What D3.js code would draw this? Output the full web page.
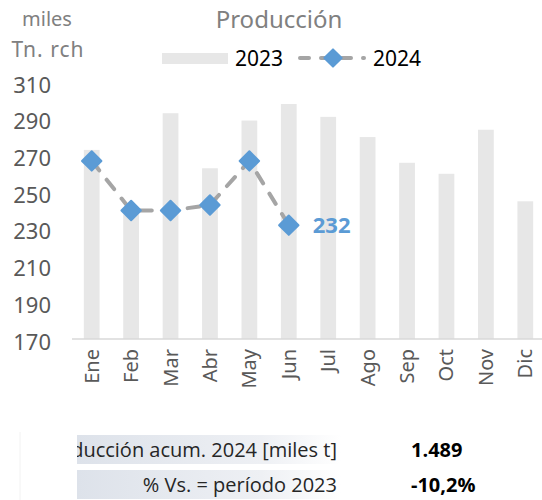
<!DOCTYPE html>
<html>
    <head>
        <meta http-equiv="Content-Type" content="text/html; charset=UTF-8">
        <script src="https://d3js.org/d3.v7.min.js"></script>
        <style>
            html, body {
                margin: 0;
                padding: 0;
                background-color: white;
            }
            svg {
                display: block;
                font-family: 'Noto Sans', sans-serif;
            }
        </style>
        <title>Producción</title>
    </head>
    <body>
        <script>
            // data
            var months = ["Ene", "Feb", "Mar", "Abr", "May", "Jun", "Jul", "Ago", "Sep", "Oct", "Nov", "Dic"];
            var prod2023 = [273, 238, 293, 263, 289, 298, 291, 280, 266, 260, 284, 245];
            var prod2024 = [267, 240, 240, 243, 267, 232];
            var yTicks = [170, 190, 210, 230, 250, 270, 290, 310];
            var tableLabels = ["Producción acum. 2024 [miles t]", "% Vs. = período 2023"];
            var tableValues = ["1.489", "-10,2%"];

            var ww = 542, hh = 500;
            var svg = d3.select("body").append("svg").attr("width", ww).attr("height", hh);

            var x = d3.scaleBand().domain(months).range([72, 545]).paddingInner(0.6).paddingOuter(0.3);
            var y = d3.scaleLinear().domain([170, 310]).range([339, 82]);

            // bars 2023
            svg.append("g").selectAll("rect").data(prod2023).enter().append("rect")
                .attr("x", function(d, i) { return x(months[i]); })
                .attr("y", function(d) { return y(d); })
                .attr("width", x.bandwidth())
                .attr("height", function(d) { return y(170) - y(d); })
                .style("fill", "#e7e7e7");

            // baseline
            svg.append("line").attr("x1", 72).attr("x2", ww).attr("y1", y(170)).attr("y2", y(170))
                .style("stroke", "#d9d9d9").style("stroke-width", 1.5);

            // y axis labels
            var yAxis = d3.axisLeft(y).tickValues(yTicks).tickSize(0).tickPadding(0);
            var gy = svg.append("g").attr("transform", "translate(51,3)").call(yAxis);
            gy.select(".domain").remove();
            gy.selectAll("text").style("font-size", "22px").style("fill", "#595959")
                .style("font-family", "'Noto Sans', sans-serif");

            // x axis labels, rotated
            var xAxis = d3.axisBottom(x).tickSize(0).tickPadding(0);
            var gx = svg.append("g").attr("transform", "translate(0,349)").call(xAxis);
            gx.select(".domain").remove();
            gx.selectAll("text")
                .style("font-size", "20px").style("fill", "#595959")
                .style("font-family", "'Noto Sans', sans-serif")
                .attr("text-anchor", "end")
                .attr("dy", "0.35em")
                .attr("y", 0)
                .attr("transform", "rotate(-90)");

            // 2024 line
            var cx = function(d, i) { return x(months[i]) + x.bandwidth() / 2; };
            var line = d3.line().x(cx).y(function(d) { return y(d); });
            svg.append("path").datum(prod2024).attr("d", line)
                .style("fill", "none").style("stroke", "#a5a5a5").style("stroke-width", 4)
                .style("stroke-dasharray", "12,12").style("stroke-linecap", "round");

            var diamond = d3.symbol().type(d3.symbolDiamond2).size(240);
            svg.append("g").selectAll("path").data(prod2024).enter().append("path")
                .attr("d", diamond)
                .attr("transform", function(d, i) { return "translate(" + cx(d, i) + "," + y(d) + ")"; })
                .style("fill", "#5b9bd5").style("stroke", "#5b9bd5").style("stroke-width", 2).style("stroke-linejoin", "round");

            var last = prod2024.length - 1;
            svg.append("text").attr("x", cx(null, last) + 24).attr("y", y(prod2024[last]) + 8)
                .text(prod2024[last])
                .style("font-size", "22px").style("font-weight", "bold").style("fill", "#5b9bd5");

            // titles
            svg.append("text").attr("x", 279).attr("y", 28).attr("text-anchor", "middle").text("Producción")
                .style("font-size", "24px").style("fill", "#808080");
            svg.append("text").attr("x", 47).attr("y", 26).attr("text-anchor", "middle").text("miles")
                .style("font-size", "20px").style("fill", "#808080");
            svg.append("text").attr("x", 48).attr("y", 57).attr("text-anchor", "middle").text("Tn. rch")
                .style("font-size", "21px").style("fill", "#808080").style("letter-spacing", "1px");

            // legend
            svg.append("rect").attr("x", 162).attr("y", 53).attr("width", 66).attr("height", 11).style("fill", "#e7e7e7");
            svg.append("text").attr("x", 235).attr("y", 66).text("2023").style("font-size", "21px").style("fill", "#000");
            svg.append("line").attr("x1", 300).attr("x2", 364).attr("y1", 58).attr("y2", 58)
                .style("stroke", "#a5a5a5").style("stroke-width", 4)
                .style("stroke-dasharray", "9,12").style("stroke-linecap", "round");
            svg.append("path").attr("d", d3.symbol().type(d3.symbolDiamond2).size(190)).attr("transform", "translate(333,58)")
                .style("fill", "#5b9bd5").style("stroke", "#5b9bd5").style("stroke-width", 2).style("stroke-linejoin", "round");
            svg.append("text").attr("x", 373).attr("y", 66).text("2024").style("font-size", "21px").style("fill", "#000");

            // summary table
            var grad = svg.append("defs").append("linearGradient").attr("id", "rowg")
                .attr("x1", "0%").attr("x2", "100%").attr("y1", "0%").attr("y2", "0%");
            grad.append("stop").attr("offset", "0%").attr("stop-color", "#dde2ea");
            grad.append("stop").attr("offset", "70%").attr("stop-color", "#eef0f4");
            grad.append("stop").attr("offset", "100%").attr("stop-color", "#ffffff");

            svg.append("line").attr("x1", 20).attr("x2", 20).attr("y1", 432).attr("y2", 500)
                .style("stroke", "#f2f2f2").style("stroke-width", 1);

            var clip = svg.select("defs").append("clipPath").attr("id", "tclip");
            clip.append("rect").attr("x", 77).attr("y", 425).attr("width", 300).attr("height", 80);

            var rowsY = [435, 470];
            var rowH = 29;
            var tg = svg.append("g").attr("clip-path", "url(#tclip)");
            rowsY.forEach(function(ry, i) {
                tg.append("rect").attr("x", 77).attr("y", ry).attr("width", 264).attr("height", rowH).style("fill", "url(#rowg)");
            });
            tableLabels.forEach(function(t, i) {
                tg.append("text").attr("x", 337).attr("y", rowsY[i] + 22).attr("text-anchor", "end").text(t)
                    .style("font-size", "20px").style("fill", "#262626").style("font-family", "'Open Sans', sans-serif");
            });
            tableValues.forEach(function(v, i) {
                svg.append("text").attr("x", 411).attr("y", rowsY[i] + 22).text(v)
                    .style("font-size", "20px").style("font-weight", "bold").style("fill", "#000")
                    .style("font-family", "'Open Sans', sans-serif");
            });
        </script>
    </body>
</html>
